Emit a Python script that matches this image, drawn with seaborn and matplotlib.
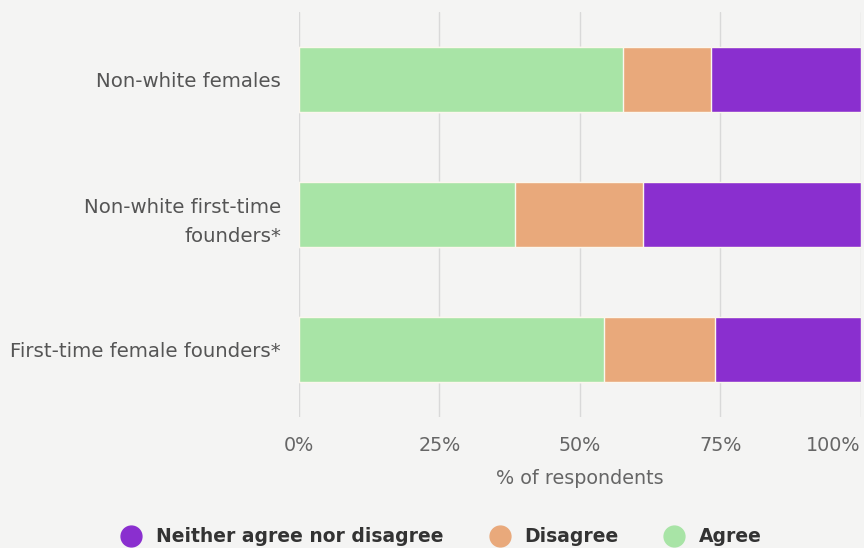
import matplotlib
matplotlib.use("Agg")
import matplotlib.pyplot as plt
from matplotlib.lines import Line2D
import seaborn as sns
import pandas as pd
import numpy as np

# Survey responses by founder group (% of respondents)
categories = ["Non-white females", "Non-white first-time\nfounders*", "First-time female founders*"]
agree = [57.7, 38.4, 54.4]
disagree = [15.7, 22.9, 19.7]
neither = [26.6, 38.7, 25.9]

series_names = ["Neither agree nor disagree", "Disagree", "Agree"]
colors = {"Neither agree nor disagree": "#8a2fcf", "Disagree": "#e9a97b", "Agree": "#a8e4a6"}

x_ticks = [0, 25, 50, 75, 100]
x_ticklabels = ["0%", "25%", "50%", "75%", "100%"]

sns.set_theme(style="white")
plt.rcParams["font.family"] = ["DejaVu Sans"]

bg = "#f4f4f3"
fig = plt.figure(figsize=(8.64, 5.48), dpi=100, facecolor=bg)
ax = fig.add_axes([0.346, 0.239, 0.650, 0.739], facecolor=bg)

df = pd.DataFrame({"category": categories, "Agree": agree,
                   "Disagree": disagree, "Neither agree nor disagree": neither})
# cumulative right edges for stacking (Agree leftmost)
df["cum_agree"] = df["Agree"]
df["cum_disagree"] = df["Agree"] + df["Disagree"]
df["cum_neither"] = df["cum_disagree"] + df["Neither agree nor disagree"]

for col, name in [("cum_neither", "Neither agree nor disagree"),
                  ("cum_disagree", "Disagree"),
                  ("cum_agree", "Agree")]:
    sns.barplot(data=df, y="category", x=col, orient="h", color=colors[name],
                saturation=1, width=0.48, edgecolor="#fbf7ee", linewidth=1.0,
                ax=ax, zorder=3)

ax.set_xlim(0, 100)
ax.set_ylim(2.5, -0.5)
ax.set_xticks(x_ticks)
ax.set_xticklabels(x_ticklabels)
ax.grid(axis="x", color="#d9d9d9", linewidth=1.0, zorder=0)
ax.grid(axis="y", visible=False)
for s in ax.spines.values():
    s.set_visible(False)
ax.tick_params(axis="x", length=0, pad=14, labelsize=13.8, labelcolor="#666666")
ax.tick_params(axis="y", length=0, pad=13, labelsize=14.2, labelcolor="#555555")
# keep the last tick label inside the figure
xlabels = ax.get_xticklabels()
xlabels[-1].set_horizontalalignment("right")
for lbl in ax.get_yticklabels():
    lbl.set_horizontalalignment("right")
    lbl.set_multialignment("right")
    lbl.set_linespacing(1.7)
ax.set_ylabel("")
ax.set_xlabel("% of respondents", fontsize=13.8, color="#666666", labelpad=10)

handles = [Line2D([0], [0], marker="o", linestyle="", markersize=15,
                  markerfacecolor=colors[n], markeredgecolor=colors[n], label=n)
           for n in series_names]
leg = fig.legend(handles=handles, loc="lower center", bbox_to_anchor=(0.506, -0.028),
                 ncol=3, frameon=False, handletextpad=0.3, columnspacing=2.0,
                 prop={"weight": "bold", "size": 13.5})
for t in leg.get_texts():
    t.set_color("#333333")

fig.savefig("out.png", dpi=100, facecolor=bg)
